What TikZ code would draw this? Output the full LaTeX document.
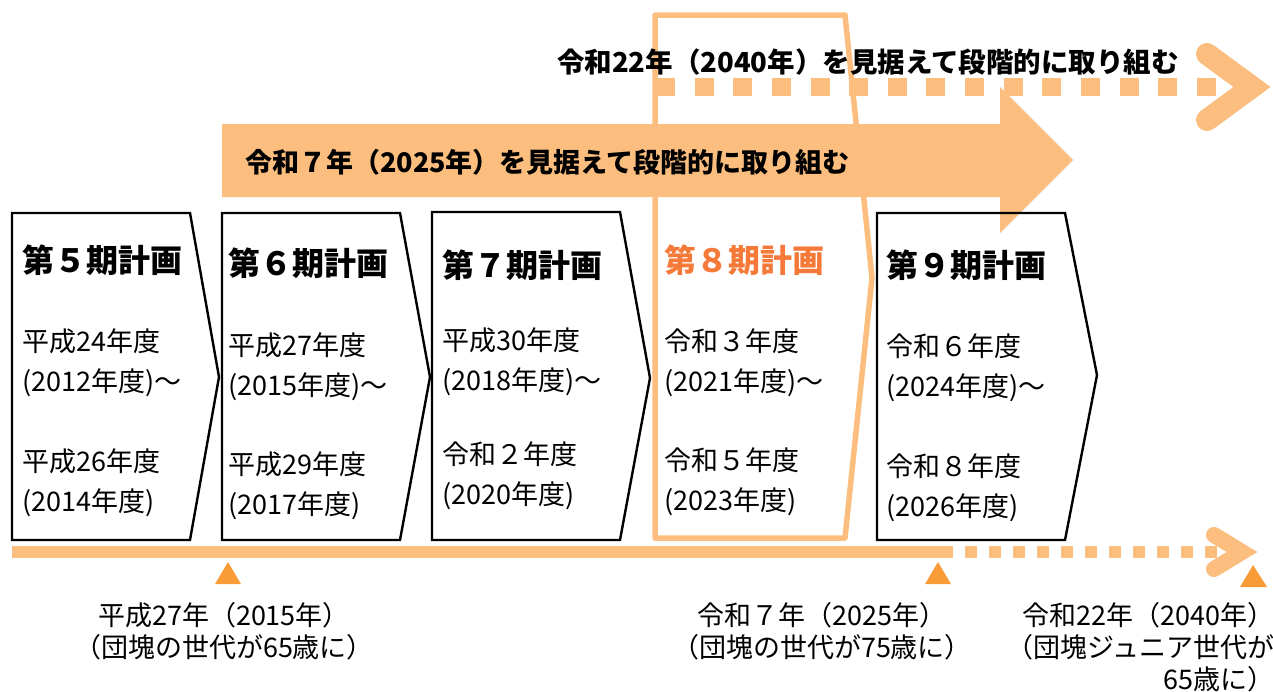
\documentclass[tikz,border=0pt]{standalone}
\usepackage{fontspec}
\setmainfont{Noto Sans CJK JP}
\definecolor{planorange}{HTML}{FBBE7E}
\definecolor{markorange}{HTML}{F99C38}
\definecolor{titleorange}{HTML}{F57A3A}
\tikzset{
    plan/.style={draw=black, line width=2.4pt, line join=miter},
    plantitle/.style={anchor=west, inner sep=0pt, font=\fontsize{32}{36}\selectfont\bfseries},
    planyear/.style={anchor=west, inner sep=0pt, align=left, font=\fontsize{27}{40}\selectfont},
    goaltext/.style={anchor=west, inner sep=0pt, font=\fontsize{27}{32}\selectfont\bfseries},
    milestone/.style={inner sep=0pt, font=\fontsize{27}{32}\selectfont},
    marker/.style={fill=markorange, draw=none},
}

\begin{document}
\begin{tikzpicture}[x=1pt, y=-1pt]
\useasboundingbox (0,0) rectangle (1273,691);
% 2040 dotted arrow
\draw[planorange, line width=18pt, dash pattern=on 19pt off 19.64pt] (656,87)--(1217,87);
\draw[planorange, line width=22pt, line cap=round, line join=miter] (1207,54)--(1252,87)--(1207,120);
% 8th plan frame
\draw[planorange, line width=5.5pt, line join=round] (655,15)--(845,15)--(872,278)--(845,538)--(655,538)--cycle;
\node[goaltext, font=\fontsize{27.5}{32}\selectfont\bfseries] (goal40) at (557,62) {令和22年（2040年）を見据えて段階的に取り組む};
% 2025 arrow
\fill[planorange] (222,124)--(1000,124)--(1000,87)--(1073,160)--(1000,233)--(1000,197)--(222,197)--cycle;
\node[goaltext] (goal25) at (245,162) {令和７年（2025年）を見据えて段階的に取り組む};
% plan boxes
\draw[plan] (12,213)--(190,213)--(219,377)--(190,540)--(12,540)--cycle;
\draw[plan] (222,213)--(400,213)--(430,377)--(400,540)--(222,540)--cycle;
\draw[plan] (432,212)--(620,212)--(650,378)--(620,540)--(432,540)--cycle;
\draw[plan] (877,213)--(1065,213)--(1097,375)--(1065,540)--(877,540)--cycle;

\node[plantitle] (p5) at (22,260) {第５期計画};
\node[planyear] (p5a) at (22,363) {平成24年度\\(2012年度)～};
\node[planyear] (p5b) at (22,483) {平成26年度\\(2014年度)};

\node[plantitle] (p6) at (228,263) {第６期計画};
\node[planyear] (p6a) at (228,367) {平成27年度\\(2015年度)～};
\node[planyear] (p6b) at (228,486) {平成29年度\\(2017年度)};

\node[plantitle] (p7) at (442,265) {第７期計画};
\node[planyear] (p7a) at (442,362) {平成30年度\\(2018年度)～};
\node[planyear] (p7b) at (442,476) {令和２年度\\(2020年度)};

\node[plantitle, text=titleorange] (p8) at (664,260) {第８期計画};
\node[planyear] (p8a) at (664,363) {令和３年度\\(2021年度)～};
\node[planyear] (p8b) at (664,482) {令和５年度\\(2023年度)};

\node[plantitle] (p9) at (886,265) {第９期計画};
\node[planyear] (p9a) at (886,368) {令和６年度\\(2024年度)～};
\node[planyear] (p9b) at (886,488) {令和８年度\\(2026年度)};
% time line
\draw[planorange, line width=12pt] (12,552)--(953,552);
\draw[planorange, line width=12pt, dash pattern=on 12pt off 12pt] (965,552)--(1217,552);
\draw[planorange, line width=16pt, line cap=round, line join=miter] (1214,535)--(1242,552)--(1214,569);
\fill[marker] (228,562)--(241,584)--(215,584)--cycle;
\fill[marker] (938,562)--(951,584)--(925,584)--cycle;
\fill[marker] (1253,565)--(1267,587)--(1240,587)--cycle;

\node[milestone, align=center] (m15) at (224,631) {平成27年（2015年）\\（団塊の世代が65歳に）};
\node[milestone, align=center] (m25) at (822,631) {令和７年（2025年）\\（団塊の世代が75歳に）};
\node[milestone, align=right, anchor=east] (m40) at (1275,647) {令和22年（2040年）\\（団塊ジュニア世代が\\65歳に）};
\end{tikzpicture}
\end{document}
